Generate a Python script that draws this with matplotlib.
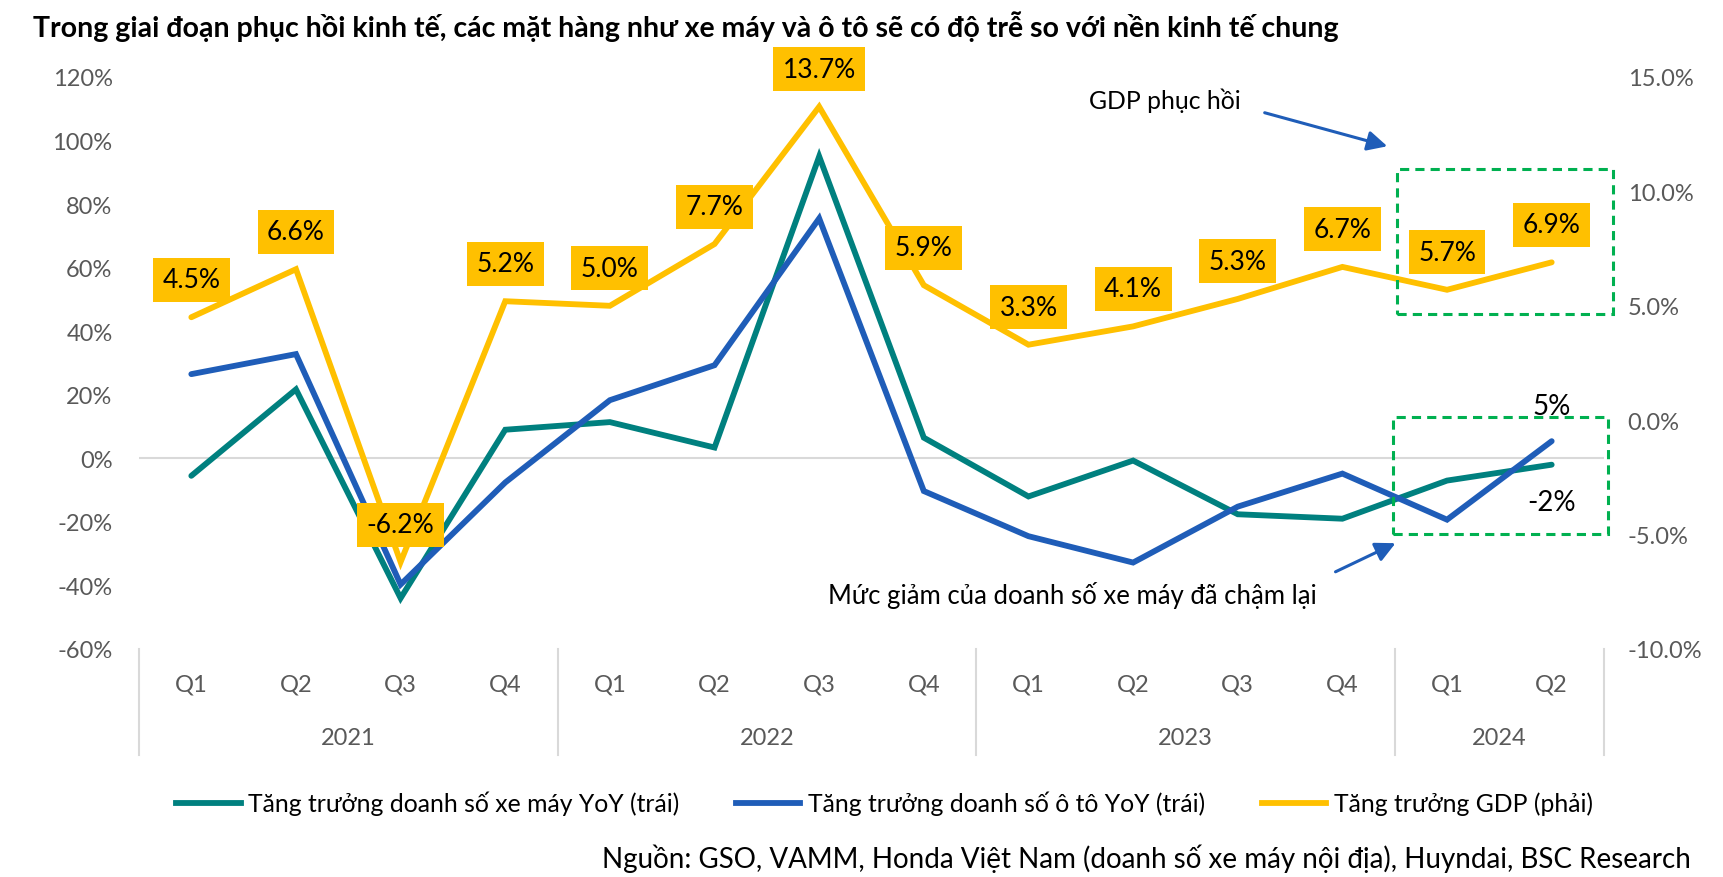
import matplotlib
matplotlib.use("Agg")
import matplotlib.pyplot as plt
from matplotlib.lines import Line2D
from matplotlib.patches import Rectangle, FancyArrowPatch
from matplotlib.ticker import FuncFormatter, MultipleLocator

plt.rcParams['font.family'] = ['Lato', 'Open Sans', 'DejaVu Sans']

quarters = ["Q1", "Q2", "Q3", "Q4", "Q1", "Q2", "Q3", "Q4", "Q1", "Q2", "Q3", "Q4", "Q1", "Q2"]
years = ["2021", "2022", "2023", "2024"]
year_counts = [4, 4, 4, 2]

moto = [-5.5, 21.7, -44.0, 9.0, 11.4, 3.4, 95.0, 6.5, -12.0, -0.7, -17.6, -19.0, -7.0, -2.0]
car = [26.5, 32.8, -39.7, -7.6, 18.3, 29.3, 75.5, -10.3, -24.5, -32.8, -15.2, -4.8, -19.3, 5.4]
gdp = [4.5, 6.6, -6.2, 5.2, 5.0, 7.7, 13.7, 5.9, 3.3, 4.1, 5.3, 6.7, 5.7, 6.9]

C_TEAL = "#00807F"
C_BLUE = "#1F5DB8"
C_YEL = "#FFC000"
C_GREEN = "#00B050"
C_TICK = "#595959"
C_GRID = "#D9D9D9"

W, H = 1724, 878
fig = plt.figure(figsize=(W / 100, H / 100), dpi=100)
ax = fig.add_axes([139 / W, 1 - 650 / H, (1604 - 139) / W, 572 / H])
ax2 = ax.twinx()

x = list(range(len(quarters)))
ax.set_xlim(-0.5, len(quarters) - 0.5)
ax.set_ylim(-60, 120)
ax2.set_ylim(-10, 15)

ax.axhline(0, color=C_GRID, lw=1.5, zorder=1)
ax.plot(x, moto, color=C_TEAL, lw=4.2, solid_capstyle='round', solid_joinstyle='miter', zorder=3)
ax.plot(x, car, color=C_BLUE, lw=4.2, solid_capstyle='round', solid_joinstyle='miter', zorder=4)
ax2.plot(x, gdp, color=C_YEL, lw=4.2, solid_capstyle='round', solid_joinstyle='miter', zorder=3)

for xi, v in zip(x, gdp):
    ax2.annotate(f"{v:.1f}%", (xi, v), xytext=(0, 27), textcoords='offset points',
                 ha='center', va='center', fontsize=19, color='black',
                 bbox=dict(boxstyle='square,pad=0.36', fc=C_YEL, ec='none'), zorder=6)

# end labels for the left-axis series
ax.annotate(f"{car[-1]:.0f}%", (x[-1], car[-1]), xytext=(0, 25), textcoords='offset points',
            ha='center', va='center', fontsize=20, color='black')
ax.annotate(f"{moto[-1]:.0f}%", (x[-1], moto[-1]), xytext=(0, -27), textcoords='offset points',
            ha='center', va='center', fontsize=20, color='black')

for a in (ax, ax2):
    for s in a.spines.values():
        s.set_visible(False)
ax.set_xticks([])
ax.yaxis.set_major_locator(MultipleLocator(20))
ax.yaxis.set_major_formatter(FuncFormatter(lambda v, p: f"{v:.0f}%"))
ax2.yaxis.set_major_locator(MultipleLocator(5))
ax2.yaxis.set_major_formatter(FuncFormatter(lambda v, p: f"{v:.1f}%"))
ax.tick_params(axis='y', length=0, pad=19, labelsize=17, labelcolor=C_TICK)
ax2.tick_params(axis='y', length=0, pad=17, labelsize=17, labelcolor=C_TICK)

# category axis
tr = ax.get_xaxis_transform()
for xi, q in zip(x, quarters):
    ax.text(xi, -0.061, q, transform=tr, ha='center', va='center', fontsize=17, color=C_TICK)
start = 0
bounds = [-0.5]
for yr, n in zip(years, year_counts):
    ax.text(start + (n - 1) / 2, -0.154, yr, transform=tr, ha='center', va='center',
            fontsize=17, color=C_TICK)
    start += n
    bounds.append(start - 0.5)
for b in bounds:
    ax.add_line(Line2D([b, b], [0, -0.185], transform=tr, color=C_GRID, lw=1.5, clip_on=False))

# highlight boxes
ax2.add_patch(Rectangle((11.52, 4.66), 13.59 - 11.52, 11.0 - 4.66, fill=False, ec=C_GREEN,
                        lw=2.2, ls=(0, (3, 2)), zorder=5, clip_on=False))
ax.add_patch(Rectangle((11.48, -23.8), 13.54 - 11.48, 13.1 + 23.8, fill=False, ec=C_GREEN,
                       lw=2.2, ls=(0, (3, 2)), zorder=5, clip_on=False))

fig.text(1165 / W, 1 - 101 / H, "GDP phục hồi", ha='center', va='center', fontsize=17.8, color='black')
fig.text(1072 / W, 1 - 596 / H, "Mức giảm của doanh số xe máy đã chậm lại", ha='center', va='center',
         fontsize=18.5, color='black')
fig.add_artist(FancyArrowPatch(
    posA=(1262 / W, 1 - 113 / H), posB=(1390 / W, 1 - 148 / H), transform=fig.transFigure,
    arrowstyle='-|>,head_length=12,head_width=6', color=C_BLUE, lw=2.2, mutation_scale=1))
fig.add_artist(FancyArrowPatch(
    posA=(1333 / W, 1 - 574 / H), posB=(1398 / W, 1 - 543 / H), transform=fig.transFigure,
    arrowstyle='-|>,head_length=12,head_width=6', color=C_BLUE, lw=2.2, mutation_scale=1))

fig.text(33 / W, 1 - 27 / H,
         "Trong giai đoạn phục hồi kinh tế, các mặt hàng như xe máy và ô tô sẽ có độ trễ so với nền kinh tế chung",
         ha='left', va='center', fontsize=20.5, fontweight='bold', color='black')

handles = [Line2D([], [], color=C_TEAL, lw=4.2),
           Line2D([], [], color=C_BLUE, lw=4.2),
           Line2D([], [], color=C_YEL, lw=4.2)]
labels = ["Tăng trưởng doanh số xe máy YoY (trái)",
          "Tăng trưởng doanh số ô tô YoY (trái)",
          "Tăng trưởng GDP (phải)"]
fig.legend(handles, labels, loc='center', bbox_to_anchor=(0.513, 1 - 804 / H), ncol=3,
           frameon=False, fontsize=17.8, handlelength=2.6, handletextpad=0.3, columnspacing=2.3,
           labelcolor='black')

fig.text(1691 / W, 1 - 859 / H,
         "Nguồn: GSO, VAMM, Honda Việt Nam (doanh số xe máy nội địa), Huyndai, BSC Research",
         ha='right', va='center', fontsize=20, color='black')

fig.savefig("out.png", dpi=100, facecolor='white')
